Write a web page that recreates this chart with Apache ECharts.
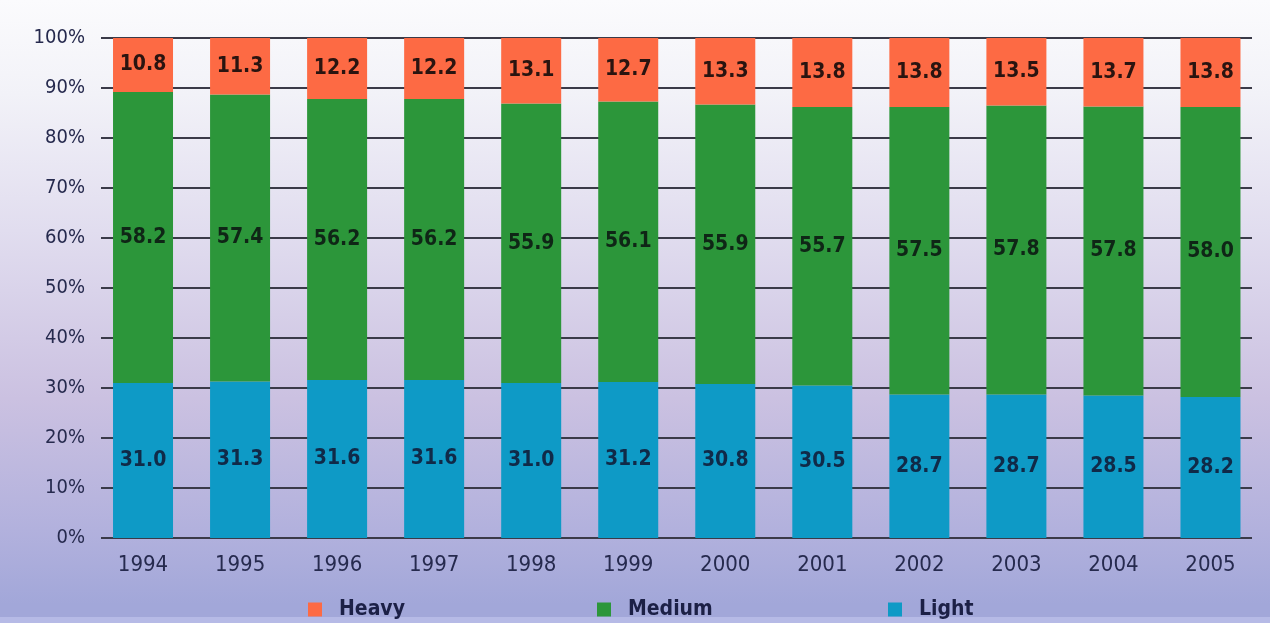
<!DOCTYPE html>
<html>
<head>
<meta charset="utf-8">
<script src="https://cdn.jsdelivr.net/npm/echarts@6/dist/echarts.min.js"></script>
<style>
  html, body { margin: 0; padding: 0; }
  #chart { width: 1270px; height: 623px; }
</style>
</head>
<body>
<div id="chart"></div>
<script>
// Vehicle class share by year (percent of total)
const years = ['1994', '1995', '1996', '1997', '1998', '1999', '2000', '2001', '2002', '2003', '2004', '2005'];
const light  = [31.0, 31.3, 31.6, 31.6, 31.0, 31.2, 30.8, 30.5, 28.7, 28.7, 28.5, 28.2];
const medium = [58.2, 57.4, 56.2, 56.2, 55.9, 56.1, 55.9, 55.7, 57.5, 57.8, 57.8, 58.0];
const heavy  = [10.8, 11.3, 12.2, 12.2, 13.1, 12.7, 13.3, 13.8, 13.8, 13.5, 13.7, 13.8];
const yTicks = [0, 10, 20, 30, 40, 50, 60, 70, 80, 90, 100];

const FONT = '"Liberation Sans Narrow", "DejaVu Sans Condensed", "Noto Sans", sans-serif';
const INK = '#262a4e';

const chart = echarts.init(document.getElementById('chart'));

function barSeries(name, data, color, labelColor) {
  return {
    name: name,
    type: 'bar',
    stack: 'share',
    xAxisIndex: 1,
    yAxisIndex: 1,
    barWidth: 60,
    data: data,
    itemStyle: { color: color },
    label: {
      show: true,
      position: 'inside',
      formatter: p => p.value.toFixed(1),
      fontFamily: FONT,
      fontWeight: 'bold',
      fontSize: 21,
      color: labelColor
    },
    emphasis: { disabled: true }
  };
}

function legendAt(name, left) {
  return {
    data: [name],
    left: left,
    top: 594,
    icon: 'rect',
    itemWidth: 14,
    itemHeight: 14,
    selectedMode: false,
    textStyle: {
      fontFamily: FONT,
      fontWeight: 'bold',
      fontSize: 21,
      color: '#1c2046',
      padding: [0, 0, 0, 12]
    }
  };
}

chart.setOption({
  animation: false,
  backgroundColor: {
    type: 'linear', x: 0, y: 0, x2: 0, y2: 1,
    colorStops: [
      { offset: 0,    color: '#fbfbfd' },
      { offset: 0.15, color: '#f2f2f8' },
      { offset: 0.37, color: '#e1ddef' },
      { offset: 0.64, color: '#cbc1e1' },
      { offset: 0.85, color: '#b2b1dd' },
      { offset: 0.97, color: '#a2a7d9' },
      { offset: 1,    color: '#a2a7d9' }
    ]
  },
  graphic: [{
    type: 'rect',
    shape: { x: 0, y: 617, width: 1270, height: 6 },
    style: { fill: '#b6bae6' },
    silent: true
  }],
  grid: [
    // gridlines and percent labels
    { left: 101, right: 18, top: 38, bottom: 85 },
    // bars and year labels
    { left: 94.5, right: 11, top: 38, bottom: 85 }
  ],
  xAxis: [
    { gridIndex: 0, type: 'value', show: false, min: 0, max: 1 },
    {
      gridIndex: 1,
      type: 'category',
      data: years,
      axisLine: { show: false },
      axisTick: { show: false },
      axisLabel: { fontFamily: FONT, fontSize: 22, color: INK, margin: 16 }
    }
  ],
  yAxis: [
    {
      gridIndex: 0,
      type: 'value',
      min: yTicks[0],
      max: yTicks[yTicks.length - 1],
      interval: 10,
      axisLine: { show: false },
      axisTick: { show: false },
      axisLabel: { formatter: '{value}%', fontFamily: FONT, fontSize: 20, color: INK, margin: 16 },
      splitLine: { show: true, lineStyle: { color: '#3a3a48', width: 2 } }
    },
    { gridIndex: 1, type: 'value', min: 0, max: 100, show: false, splitLine: { show: false } }
  ],
  legend: [
    legendAt('Heavy', 303),
    legendAt('Medium', 592),
    legendAt('Light', 883)
  ],
  series: [
    barSeries('Light', light, '#0e9ac6', '#102a48'),
    barSeries('Medium', medium, '#2c963a', '#0f2616'),
    barSeries('Heavy', heavy, '#fd6a44', '#2a1410')
  ]
});
</script>
</body>
</html>
